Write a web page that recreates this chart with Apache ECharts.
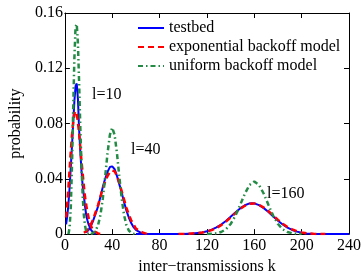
<!DOCTYPE html>
<html><head><meta charset="utf-8">
<script src="https://cdn.jsdelivr.net/npm/echarts@6/dist/echarts.min.js"></script>
<style>html,body{margin:0;padding:0;background:#fff}#c{width:364px;height:280px}</style>
</head><body><div id="c"></div>
<script>
const xTicks = [0, 40, 80, 120, 160, 200, 240];
const yTicks = [0, 0.04, 0.08, 0.12, 0.16];
const seriesNames = ['testbed', 'exponential backoff model', 'uniform backoff model'];
const annotations = ['l=10', 'l=40', 'l=160'];

// l = 10
const testbed10 = [[1,0.007],[2,0.013],[3,0.022],[4,0.034],[5,0.049],[6,0.064],[7,0.080],[8,0.096],[9,0.107],[10,0.109],[11,0.098],[12,0.076],[13,0.060],[14,0.046],[15,0.035],[16,0.028],[17,0.020],[18,0.014],[19,0.010],[20,0.007],[21,0.005],[22,0.003],[23,0.002],[24,0.001],[25,0.0005],[26,0]];
const expo10 = [[1,0.012],[2,0.022],[3,0.034],[4,0.047],[5,0.060],[6,0.072],[7,0.081],[8,0.087],[9,0.089],[10,0.087],[11,0.081],[12,0.073],[13,0.063],[14,0.053],[15,0.044],[16,0.035],[17,0.027],[18,0.021],[19,0.016],[20,0.012],[21,0.008],[22,0.006],[23,0.004],[24,0.003],[25,0.002],[26,0.001],[28,0.0005],[30,0]];
const unif10 = [[3,0],[4,0.005],[5,0.020],[6,0.050],[7,0.090],[8,0.127],[9,0.150],[10,0.152],[11,0.138],[12,0.110],[13,0.078],[14,0.050],[15,0.028],[16,0.014],[17,0.006],[18,0.002],[19,0.0005],[20,0]];

// l = 40
const testbed40 = [[18,0.001],[20,0.003],[22,0.006],[24,0.010],[26,0.015],[28,0.020],[30,0.027],[32,0.034],[34,0.040],[36,0.045],[38,0.0485],[40,0.049],[42,0.047],[44,0.042],[46,0.036],[48,0.030],[50,0.023],[52,0.017],[54,0.012],[56,0.008],[58,0.005],[60,0.003],[62,0.002],[64,0.001],[66,0.0005],[68,0]];
const expo40 = [[16,0.001],[18,0.002],[20,0.004],[22,0.007],[24,0.011],[26,0.016],[28,0.021],[30,0.027],[32,0.033],[34,0.038],[36,0.042],[38,0.045],[40,0.046],[42,0.0455],[44,0.042],[46,0.037],[48,0.031],[50,0.025],[52,0.019],[54,0.014],[56,0.010],[58,0.007],[60,0.004],[62,0.003],[64,0.002],[66,0.001],[68,0.0005],[70,0]];
const unif40 = [[22,0],[24,0.0009],[26,0.0026],[28,0.0064],[30,0.0137],[32,0.0256],[34,0.0414],[36,0.0584],[38,0.0718],[40,0.077],[42,0.0718],[44,0.0584],[46,0.0414],[48,0.0256],[50,0.0137],[52,0.0064],[54,0.0026],[56,0.0009],[58,0.0003],[60,0]];

// l = 160
const testbed160 = [[60,0],[100,0.0001],[108,0.0004],[116,0.0012],[120,0.0020],[124,0.0032],[128,0.0048],[132,0.0069],[136,0.0095],[140,0.0125],[144,0.0157],[148,0.0186],[152,0.0209],[156,0.0222],[158,0.0224],[160,0.0222],[164,0.0210],[168,0.0188],[172,0.0160],[176,0.0128],[180,0.0097],[184,0.0070],[188,0.0047],[192,0.0030],[196,0.0018],[200,0.0010],[204,0.0005],[208,0.0002],[216,0],[240,0]];
const expo160 = [[96,0],[104,0.0002],[112,0.0007],[116,0.0011],[120,0.0018],[124,0.0029],[128,0.0044],[132,0.0065],[136,0.0090],[140,0.0120],[144,0.0152],[148,0.0182],[152,0.0205],[156,0.0219],[160,0.0222],[164,0.0212],[168,0.0192],[172,0.0165],[176,0.0134],[180,0.0103],[184,0.0075],[188,0.0052],[192,0.0034],[196,0.0021],[200,0.0012],[204,0.0006],[210,0.0002],[220,0]];
const unif160 = [[120,0],[128,0.0006],[132,0.0015],[136,0.0035],[140,0.0073],[144,0.0132],[148,0.0210],[152,0.0292],[156,0.0356],[160,0.0380],[164,0.0356],[168,0.0292],[172,0.0210],[176,0.0132],[180,0.0073],[184,0.0035],[188,0.0015],[192,0.0006],[200,0]];

const FONT = "'Liberation Serif','Times New Roman',serif";
const colors = ['#0000ff', '#ff0000', '#238b45'];
const styles = [
  { width: 2, type: 'solid' },
  { width: 2.5, type: [6, 4] },
  { width: 2.5, type: [5, 3, 1.5, 3] }
];
const groups = [
  [testbed10, expo10, unif10],
  [testbed40, expo40, unif40],
  [testbed160, expo160, unif160]
];

const series = [];
for (let s = 0; s < 3; s++) {
  for (let g = 0; g < 3; g++) {
    series.push({
      name: seriesNames[s],
      type: 'line',
      data: groups[g][s],
      symbol: 'none',
      smooth: false,
      animation: false,
      z: 2 + s,
      lineStyle: { color: colors[s], width: styles[s].width, type: styles[s].type },
      itemStyle: { color: colors[s] }
    });
  }
}

const axisCommon = {
  axisLine: { show: true, onZero: false, lineStyle: { color: '#000', width: 1 } },
  axisTick: { show: true, inside: true, length: 5, lineStyle: { color: '#000' } },
  splitLine: { show: false }
};

const chart = echarts.init(document.getElementById('c'), null, { renderer: 'canvas' });
chart.setOption({
  animation: false,
  backgroundColor: '#fff',
  grid: { left: 64, right: 12, top: 13, bottom: 41, containLabel: false },
  legend: {
    data: seriesNames,
    orient: 'vertical',
    left: 132,
    top: 15,
    itemWidth: 26,
    itemHeight: 14,
    itemGap: 3,
    itemStyle: { opacity: 0 },
    textStyle: { fontFamily: FONT, fontSize: 16, color: '#000' },
    backgroundColor: 'transparent'
  },
  xAxis: [
    Object.assign({}, axisCommon, {
      type: 'value', min: 0, max: 240, interval: 40, position: 'bottom',
      name: 'inter\u2212transmissions k', nameLocation: 'middle', nameGap: 21,
      nameTextStyle: { fontFamily: FONT, fontSize: 16, color: '#000' },
      axisLabel: { fontFamily: FONT, fontSize: 16, color: '#000', margin: 4,
        formatter: v => xTicks.includes(v) ? String(v) : '' }
    }),
    Object.assign({}, axisCommon, {
      type: 'value', min: 0, max: 240, interval: 40, position: 'top',
      axisLabel: { show: false }
    })
  ],
  yAxis: [
    Object.assign({}, axisCommon, {
      type: 'value', min: 0, max: 0.16, interval: 0.04, position: 'left',
      name: 'probability', nameLocation: 'middle', nameGap: 37,
      nameTextStyle: { fontFamily: FONT, fontSize: 16, color: '#000' },
      axisLabel: { fontFamily: FONT, fontSize: 16, color: '#000', margin: 2,
        formatter: v => { const t = yTicks.find(y => Math.abs(y - v) < 1e-9); return t === undefined ? '' : (t === 0 ? '0' : t.toFixed(2)); } }
    }),
    Object.assign({}, axisCommon, {
      type: 'value', min: 0, max: 0.16, interval: 0.04, position: 'right',
      axisLabel: { show: false }
    })
  ],
  graphic: [
    { type: 'text', left: 92, top: 87, style: { text: annotations[0], font: '16px ' + FONT, fill: '#000' } },
    { type: 'text', left: 131, top: 142, style: { text: annotations[1], font: '16px ' + FONT, fill: '#000' } },
    { type: 'text', left: 267, top: 186, style: { text: annotations[2], font: '16px ' + FONT, fill: '#000' } }
  ],
  series: series
});
</script>
</body></html>
